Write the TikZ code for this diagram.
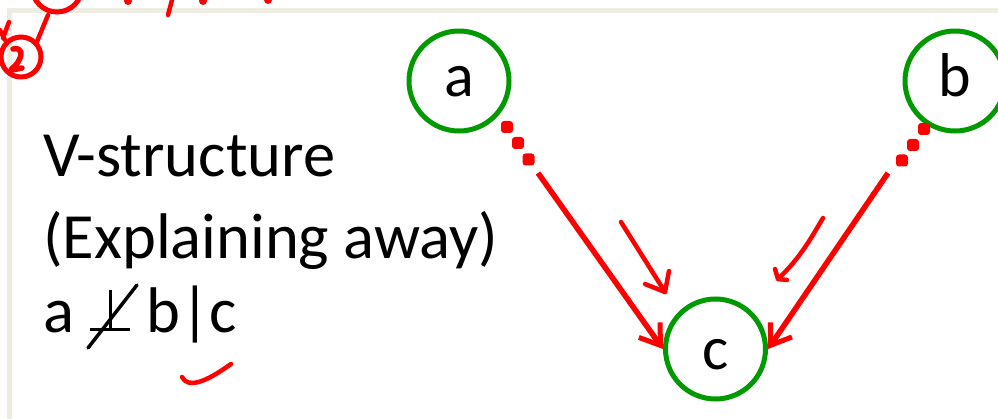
\documentclass[tikz,border=0pt]{standalone}
\usepackage{fontspec}
\setmainfont{Carlito}
\usetikzlibrary{arrows.meta}
\definecolor{nodegreen}{RGB}{0,153,0}
\definecolor{inkred}{RGB}{255,0,0}
\definecolor{framegray}{RGB}{238,236,225}
\tikzset{
  var/.style={circle, draw=nodegreen, line width=5pt, minimum size=100pt, inner sep=0pt,
    font=\fontsize{62}{62}\selectfont, text depth=0pt},
  caption/.style={anchor=base west, inner sep=0pt, font=\fontsize{64.5}{64.5}\selectfont},
  edgeline/.style={draw=inkred, line width=5.5pt},
  edgetip/.style={-{Straight Barb[length=19pt,width=26pt,line width=5pt]}},
  edgedot/.style={fill=inkred, rounded corners=3pt},
  ink/.style={draw=inkred, line width=4.5pt, line cap=round, line join=round},
  blackink/.style={draw=black, line width=3.5pt, line cap=round},
}
% one square dot of a dotted edge start, centred on a named coordinate
\newcommand{\edgedotat}[1]{\fill[edgedot] ([shift={(-6,-6)}]#1) rectangle ([shift={(6,6)}]#1);}
\begin{document}
\begin{tikzpicture}[x=1pt, y=-1pt]
\useasboundingbox (0,0) rectangle (998,419);
\fill[white] (0,0) rectangle (998,419);

% slide frame
\draw[framegray, line width=4.5pt] (9.5,419) -- (9.5,10.5) -- (998,10.5);

% random variables
\node[var, text height=32pt] (a) at (459,81) {a};
\node[var, text height=32pt] (b) at (955,81) {b};
\node[var, text height=42pt] (c) at (715.5,349) {c};

% edge a -> c : dotted start, solid shaft
\coordinate (ad1) at (507,127);
\coordinate (ad2) at (518,143);
\coordinate (ad3) at (528.5,159.5);
\coordinate (as)  at (538,173);
\edgedotat{ad1}
\edgedotat{ad2}
\edgedotat{ad3}
\draw[edgeline, edgetip] (as) -- (c.west);

% edge b -> c
\coordinate (bd1) at (924,129);
\coordinate (bd2) at (913,145);
\coordinate (bd3) at (902,160.5);
\coordinate (bs)  at (888,173);
\edgedotat{bd1}
\edgedotat{bd2}
\edgedotat{bd3}
\draw[edgeline, edgetip] (bs) -- (c.east);

% caption text
\node[caption] (t1) at (43,177) {V-structure};
\node[caption] (t2) at (43,259) {(Explaining away)};
\node[caption] (t3a) at (43,333) {a};
\node[caption] (t3b) at (146,333) {b|c};

% dependence sign: perpendicular with a stroke through it
\coordinate (pl) at (90,330);
\coordinate (pr) at (130,330);
\coordinate (pt) at (110,290);
\coordinate (pb) at (110,330);
\draw[black, line width=3pt] (pl) -- (pr) (pt) -- (pb);
\coordinate (s1) at (88,348);
\coordinate (s2) at (137,285);
\draw[blackink] (s1) -- (s2);

% hand-drawn annotations
\coordinate (la0) at (621,222);
\coordinate (la1) at (665,292);
\draw[ink] (la0) .. controls (636,246) and (650,268) .. (la1);
\draw[ink] (645,284) -- (la1) -- (669,271);

\coordinate (ra0) at (823,218);
\coordinate (ra1) at (778,279);
\draw[ink] (ra0) .. controls (810,240) and (800,258) .. (ra1);
\draw[ink] (775,269) -- (ra1) -- (787,280);

\draw[ink] (182,377) .. controls (188,389) and (206,382) .. (231,364);

% pen marks along the top edge
\draw[inkred, line width=5pt] (57,-13) circle (25);
\draw[ink] (48,15) -- (36,44);
\draw[inkred, line width=5pt] (21,57) circle (20);
\draw[ink, line width=5.5pt] (13,49) .. controls (22,47) and (23,54) .. (18,62) .. controls (14,68) and (9,70) .. (12,70) -- (22,68);
\draw[ink] (9,22) -- (3,38);
\draw[ink] (0,30) -- (5,40);
\fill[inkred] (128,1) circle (4);
\draw[ink] (172,0) -- (168,15);
\fill[inkred] (203,1) circle (4);
\fill[inkred] (268,0) circle (4);
\end{tikzpicture}
\end{document}
